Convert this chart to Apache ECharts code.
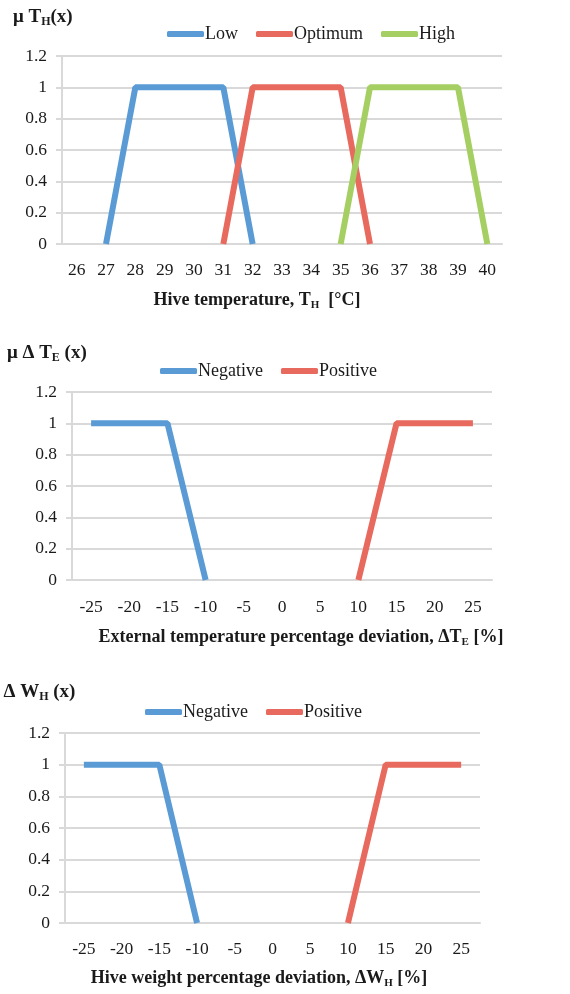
<!DOCTYPE html>
<html>
<head>
<meta charset="utf-8">
<script src="https://cdn.jsdelivr.net/npm/echarts@6/dist/echarts.min.js"></script>
<style>
html,body{margin:0;padding:0;background:#fff;}
#main{width:570px;height:994px;}
</style>
</head>
<body>
<div id="main"></div>
<script>
// ---- data ----
var tempCats = ['26','27','28','29','30','31','32','33','34','35','36','37','38','39','40'];
var lowVals  = [null,0,1,1,1,1,0,null,null,null,null,null,null,null,null];
var optVals  = [null,null,null,null,null,0,1,1,1,1,0,null,null,null,null];
var highVals = [null,null,null,null,null,null,null,null,null,0,1,1,1,1,0];

var devCats = ['-25','-20','-15','-10','-5','0','5','10','15','20','25'];
var extNegVals = [1,1,1,0,null,null,null,null,null,null,null];
var extPosVals = [null,null,null,null,null,null,null,0,1,1,1];
var wgtNegVals = [1,1,1,0,null,null,null,null,null,null,null];
var wgtPosVals = [null,null,null,null,null,null,null,0,1,1,1];

var yTicks = {min:0, max:1.2, interval:0.2};

// ---- styles ----
var FONT = 'Liberation Serif';
var BLUE = '#5B9BD5', RED = '#E8695D', GREEN = '#A5CF62';
var GRID_C = '#D9D9D9';
var TXT = '#1a1a1a';

function yAxis(gi){
  return {type:'value', gridIndex:gi, min:yTicks.min, max:yTicks.max, interval:yTicks.interval,
    axisLine:{show:true, lineStyle:{color:GRID_C, width:2}},
    axisTick:{show:true, length:6, lineStyle:{color:GRID_C, width:2}},
    splitLine:{show:true, lineStyle:{color:GRID_C, width:2}},
    axisLabel:{color:TXT, fontFamily:FONT, fontSize:17.5, margin:15,
      formatter:function(v){return String(Math.round(v*10)/10);}}};
}
function xAxis(gi, cats, margin){
  return {type:'category', gridIndex:gi, data:cats, boundaryGap:true,
    axisLine:{show:true, lineStyle:{color:GRID_C, width:2}},
    axisTick:{show:false},
    axisLabel:{color:TXT, fontFamily:FONT, fontSize:17.5, margin:margin, interval:0}};
}
function line(name, gi, data, color){
  return {type:'line', name:name, xAxisIndex:gi, yAxisIndex:gi, data:data,
    showSymbol:false, symbol:'none', connectNulls:false,
    lineStyle:{color:color, width:6}, itemStyle:{color:color}, animation:false};
}
function legend(items, left, top){
  return {data:items, left:left, top:top, icon:'roundRect', itemWidth:37, itemHeight:6,
    itemGap:18, padding:0, textStyle:{color:TXT, fontFamily:FONT, fontSize:18, padding:[0,0,0,-4]}};
}
var rich = {
  b:{fontFamily:FONT, fontWeight:'bold', fontSize:18, fill:TXT, color:TXT, lineHeight:22, verticalAlign:'middle'},
  s:{fontFamily:FONT, fontWeight:'bold', fontSize:11, fill:TXT, color:TXT, lineHeight:22, verticalAlign:'bottom'},
  t:{fontFamily:FONT, fontWeight:'bold', fontSize:19, fill:TXT, color:TXT, lineHeight:22, verticalAlign:'middle'},
  ts:{fontFamily:FONT, fontWeight:'bold', fontSize:12, fill:TXT, color:TXT, lineHeight:22, verticalAlign:'bottom'}
};
function label(text, x, y, align){
  return {type:'text', x:x, y:y, style:{text:text, rich:rich, align:align||'center', verticalAlign:'middle', fill:TXT}};
}

var chart = echarts.init(document.getElementById('main'), null, {renderer:'canvas'});
chart.setOption({
  backgroundColor:'#fff',
  animation:false,
  grid:[
    {left:62, width:440, top:56, height:188},
    {left:72, width:420, top:392, height:188},
    {left:65, width:415, top:733, height:190}
  ],
  xAxis:[xAxis(0, tempCats, 17), xAxis(1, devCats, 18), xAxis(2, devCats, 17)],
  yAxis:[yAxis(0), yAxis(1), yAxis(2)],
  legend:[
    legend(['Low','Optimum','High'], 167, 25),
    legend([{name:'Negative'},{name:'Positive'}], 160, 362),
    legend([{name:'Negative'},{name:'Positive'}], 145, 703)
  ],
  series:[
    line('Low',0,lowVals,BLUE),
    line('Optimum',0,optVals,RED),
    line('High',0,highVals,GREEN),
    line('Negative',1,extNegVals,BLUE),
    line('Positive',1,extPosVals,RED),
    line('Negative',2,wgtNegVals,BLUE),
    line('Positive',2,wgtPosVals,RED)
  ],
  graphic:[
    label('{t|μ T}{ts|H}{t|(x)}', 13, 17, 'left'),
    label('{t|μ Δ T}{ts|E}{t| (x)}', 7, 353, 'left'),
    label('{t|μ Δ W}{ts|H}{t| (x)}', -12, 692, 'left'),
    label('{b|Hive temperature, T}{s|H}{b|  [°C]}', 257, 300),
    label('{b|External temperature percentage deviation, ΔT}{s|E}{b| [%]}', 301, 637),
    label('{b|Hive weight percentage deviation, ΔW}{s|H}{b| [%]}', 259, 978)
  ]
});
</script>
</body>
</html>
